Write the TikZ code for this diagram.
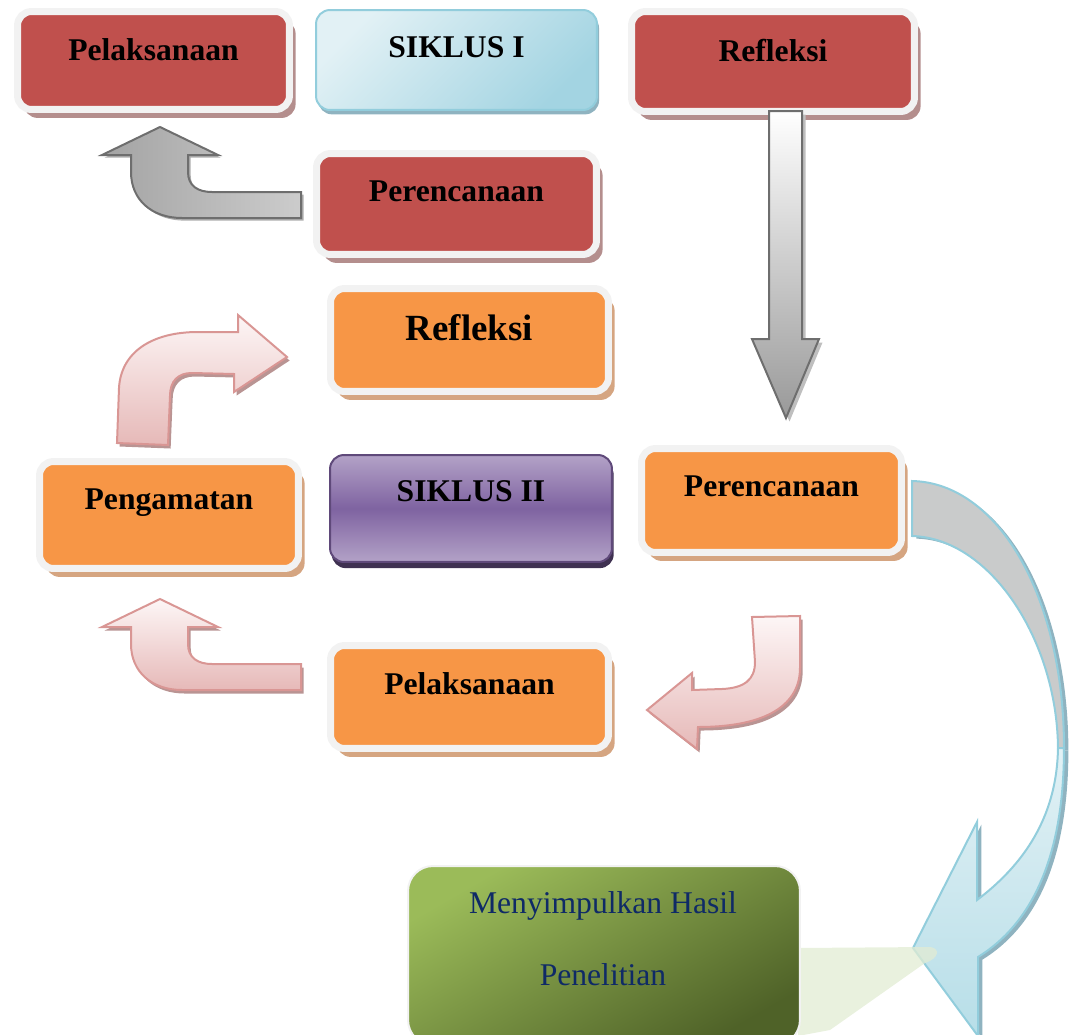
\documentclass[tikz,border=0pt]{standalone}
\usepackage{fontspec}
\setmainfont{Liberation Serif}
\usetikzlibrary{shadows}

\definecolor{rimgray}{HTML}{F2F2F2}
\definecolor{redfill}{HTML}{C0504D}
\definecolor{redshade}{HTML}{B48E8D}
\definecolor{orangefill}{HTML}{F79646}
\definecolor{orangeshade}{HTML}{D5A581}
\definecolor{bluelight}{HTML}{E2F1F5}
\definecolor{bluedeep}{HTML}{A3D4E2}
\definecolor{blueline}{HTML}{92CDDC}
\definecolor{blueshade}{HTML}{8FB3C0}
\definecolor{bluehead}{HTML}{B7DEE8}
\definecolor{purplelight}{HTML}{B3A2C7}
\definecolor{purpledeep}{HTML}{7F63A1}
\definecolor{purpleline}{HTML}{5F497A}
\definecolor{purpleshade}{HTML}{3F3151}
\definecolor{greenlight}{HTML}{9BBB59}
\definecolor{greendark}{HTML}{4F6228}
\definecolor{navytext}{HTML}{0F2A66}
\definecolor{wedgegreen}{HTML}{E2ECD3}
\definecolor{pinklight}{HTML}{FDF6F6}
\definecolor{pinkdeep}{HTML}{E6B9B8}
\definecolor{pinkline}{HTML}{D99694}
\definecolor{pinkshade}{HTML}{B99493}
\definecolor{grayline}{HTML}{6E6E6E}
\definecolor{grayshade}{HTML}{BFBFBF}
\definecolor{backgray}{HTML}{C9CBCB}

\tikzset{
  stagebox/.style={rectangle, rounded corners=0.28cm, inner sep=0pt,
    text height=0pt, text depth=0pt, font=\fontsize{18pt}{22pt}\selectfont\bfseries},
  redbox/.style={stagebox, fill=redfill, draw=rimgray, line width=0.14cm,
    drop shadow={shadow xshift=3.5pt, shadow yshift=-4.8pt, fill=redshade, opacity=1}},
  orangebox/.style={stagebox, fill=orangefill, draw=rimgray, line width=0.14cm,
    drop shadow={shadow xshift=3.5pt, shadow yshift=-4.8pt, fill=orangeshade, opacity=1}},
  siklusone/.style={stagebox, draw=blueline, line width=0.04cm,
    top color=bluelight, bottom color=bluedeep, shading angle=45,
    drop shadow={shadow xshift=1.2pt, shadow yshift=-2.5pt, fill=blueshade, opacity=1}},
  siklustwo/.style={stagebox, draw=purpleline, line width=0.04cm,
    top color=purplelight, bottom color=purplelight, middle color=purpledeep,
    drop shadow={shadow xshift=1pt, shadow yshift=-3.5pt, fill=purpleshade, opacity=1}},
  hasilbox/.style={rectangle, rounded corners=0.5cm, draw=rimgray, line width=0.04cm,
    top color=greenlight, bottom color=greendark, shading angle=30},
  grayarrow/.style={draw=grayline, line width=0.04cm,
    left color=black!36, right color=black!20,
    drop shadow={shadow xshift=1.5pt, shadow yshift=-1.5pt, fill=black!45, opacity=0.7}},
  downarrow/.style={draw=grayline, line width=0.04cm,
    top color=white, bottom color=black!40,
    drop shadow={shadow xshift=2pt, shadow yshift=-2pt, fill=grayshade, opacity=1}},
  pinkarrow/.style={draw=pinkline, line width=0.04cm,
    top color=pinklight, bottom color=pinkdeep,
    drop shadow={shadow xshift=1.5pt, shadow yshift=-2pt, fill=pinkshade, opacity=1}},
  bluearrow/.style={draw=blueline, line width=0.04cm,
    drop shadow={shadow xshift=2.5pt, shadow yshift=-1.5pt, fill=blueshade, opacity=1}}
}

% bent arrow pointing up, tail on the right
\newcommand\bentuppath[1]{(301,192+#1) -- (212,192+#1) .. controls (198,192+#1) and (188,186+#1) .. (188,172+#1) -- (188,155+#1) -- (218,155+#1) -- (160,127+#1) -- (102,155+#1) -- (131,155+#1) -- (131,172+#1) .. controls (131,200+#1) and (152,218+#1) .. (182,218+#1) -- (301,218+#1) -- cycle}

\begin{document}
\begin{tikzpicture}[x=0.02cm,y=-0.02cm]
  \useasboundingbox (0,0) rectangle (1073,1035);

  % siklus I
  \node[redbox, minimum width=5.44cm, minimum height=1.96cm] (pel1) at (153.5,60.5) {Pelaksanaan};
  \node[siklusone, minimum width=5.62cm, minimum height=2cm, text depth=2.3pt] (sik1) at (456.5,60) {SIKLUS I};
  \node[redbox, minimum width=5.66cm, minimum height=2cm] (ref1) at (773,61.5) {Refleksi};
  \node[redbox, minimum width=5.6cm, minimum height=2.02cm, text depth=2.3pt] (per1) at (456.5,204) {Perencanaan};

  % siklus II
  \node[orangebox, minimum width=5.56cm, minimum height=2.06cm, font=\fontsize{21pt}{25pt}\selectfont\bfseries] (ref2) at (469.5,340) {Refleksi};
  \node[orangebox, minimum width=5.18cm, minimum height=2.14cm, text depth=5.7pt] (pen2) at (169,515) {Pengamatan};
  \node[siklustwo, minimum width=5.64cm, minimum height=2.14cm, text depth=8.5pt] (sik2) at (471,508.5) {SIKLUS II};
  \node[orangebox, minimum width=5.2cm, minimum height=2.08cm, text depth=4pt] (per2) at (771.5,500.5) {Perencanaan};
  \node[orangebox, minimum width=5.56cm, minimum height=2.06cm, text depth=3.4pt] (pel2) at (469.5,697) {Pelaksanaan};

  % block arrows
  \draw[grayarrow] \bentuppath{0};
  \draw[downarrow] (769,111) -- (802,111) -- (802,339) -- (819,339) -- (786,418) -- (752,339) -- (769,339) -- cycle;
  \draw[pinkarrow] (117,443) -- (119,388) .. controls (121,352) and (152,332) .. (198,332) -- (238,332) -- (238,315) -- (287,357) -- (234,392) -- (234,374) -- (192,373) .. controls (178,373) and (170,381) .. (170,396) -- (168,445) -- cycle;
  \draw[pinkarrow] \bentuppath{472};
  \draw[pinkarrow] (752,617) -- (800,616) -- (800,668) .. controls (800,704) and (768,727) .. (698,727) -- (697,749) -- (647,710) -- (692,673) -- (692,690) -- (722,689) .. controls (744,688) and (755,680) .. (755,662) -- cycle;

  % curved arrow to the conclusion
  \draw[bluearrow, fill=backgray] (912,481) .. controls (1000,483) and (1064,600) .. (1064,748) -- (1058,748) .. controls (1057,640) and (990,538) .. (912,536) -- cycle;
  \draw[bluearrow, top color=bluelight, bottom color=bluehead]
    (1064,748) .. controls (1064,860) and (1030,925) .. (978,957) -- (978,1036) -- (913,948) -- (977,822) -- (977,900) .. controls (1030,860) and (1057,810) .. (1058,748) -- cycle;
  \fill[wedgegreen, opacity=0.75] (798,948) -- (930,947) .. controls (940,948) and (940,958) .. (925,963) -- (830,1030) -- (798,1036) -- cycle;

  \node[hasilbox, minimum width=7.84cm, minimum height=3.58cm] (hasil) at (604,955.5) {};
  \node[align=center, text=navytext, font=\fontsize{18pt}{41pt}\selectfont] (hasiltext) at (603,939) {Menyimpulkan Hasil\\Penelitian};
\end{tikzpicture}
\end{document}
